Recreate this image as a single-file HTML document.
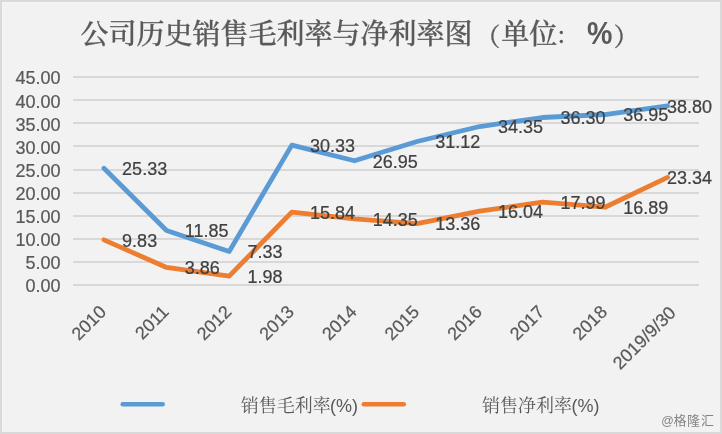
<!DOCTYPE html>
<html lang="zh-CN">
<head>
<meta charset="utf-8">
<title>公司历史销售毛利率与净利率图</title>
<style>
html,body{margin:0;padding:0;background:#d9d9d9;}
body{width:722px;height:434px;overflow:hidden;position:relative;}
svg{position:absolute;left:0;top:0;display:block;}
.num{font-family:"Liberation Sans","Noto Sans CJK SC",sans-serif;font-size:18px;}
.ax{fill:#595959;stroke:#595959;stroke-width:0.22px;}
.dl{fill:#404040;stroke:#404040;stroke-width:0.22px;}
.ttl{font-family:"Noto Serif CJK SC","Liberation Serif",serif;font-size:28px;fill:#595959;font-weight:500;stroke:#595959;stroke-width:0.3px;}
.lg{font-family:"Noto Serif CJK SC","Liberation Serif",serif;font-size:18px;fill:#595959;}
.wm{font-family:"Liberation Sans","Noto Sans CJK SC",sans-serif;font-size:13px;fill:#858585;}
</style>
</head>
<body>
<svg width="722" height="434" viewBox="0 0 722 434">
<rect x="0" y="0" width="722" height="434" fill="#d9d9d9"/>
<rect x="2" y="2" width="718.1" height="429.8" fill="#f5f5f5"/>
<rect x="3" y="3" width="716.6" height="428.4" fill="#f2f2f2"/>

<g fill="#d8d8d8">
<rect x="73.1" y="76" width="625.8" height="2"/>
<rect x="73.1" y="99" width="625.8" height="2"/>
<rect x="73.1" y="122" width="625.8" height="2"/>
<rect x="73.1" y="145" width="625.8" height="2"/>
<rect x="73.1" y="169" width="625.8" height="2"/>
<rect x="73.1" y="192" width="625.8" height="2"/>
<rect x="73.1" y="215" width="625.8" height="2"/>
<rect x="73.1" y="238" width="625.8" height="2"/>
<rect x="73.1" y="261" width="625.8" height="2"/>
<rect x="73.1" y="284" width="625.8" height="2"/>
</g>
<g class="num ax" text-anchor="end">
<text x="60.6" y="292.40">0.00</text>
<text x="60.6" y="269.29">5.00</text>
<text x="60.6" y="246.18">10.00</text>
<text x="60.6" y="223.07">15.00</text>
<text x="60.6" y="199.96">20.00</text>
<text x="60.6" y="176.85">25.00</text>
<text x="60.6" y="153.74">30.00</text>
<text x="60.6" y="130.63">35.00</text>
<text x="60.6" y="107.52">40.00</text>
<text x="60.6" y="84.41">45.00</text>
</g>
<polyline points="103.91,168.22 166.55,230.53 229.18,251.42 291.81,145.11 354.44,160.73 417.07,141.46 479.70,126.53 542.33,117.51 604.96,114.51 667.59,105.96" fill="none" stroke="#5b9bd5" stroke-width="4.8" stroke-linecap="round" stroke-linejoin="round"/>
<polyline points="103.91,239.86 166.55,267.46 229.18,276.15 291.81,212.08 354.44,218.97 417.07,223.55 479.70,211.16 542.33,202.15 604.96,207.23 667.59,177.42" fill="none" stroke="#ed7d31" stroke-width="4.8" stroke-linecap="round" stroke-linejoin="round"/>
<g class="num dl">
<text x="122.11" y="175.12">25.33</text>
<text x="184.75" y="237.43">11.85</text>
<text x="247.38" y="258.32">7.33</text>
<text x="310.00" y="152.01">30.33</text>
<text x="372.64" y="167.63">26.95</text>
<text x="435.27" y="148.36">31.12</text>
<text x="497.90" y="133.43">34.35</text>
<text x="560.53" y="124.41">36.30</text>
<text x="623.16" y="121.41">36.95</text>
<text x="666.90" y="112.86">38.80</text>
<text x="122.11" y="246.76">9.83</text>
<text x="184.75" y="274.36">3.86</text>
<text x="247.38" y="283.05">1.98</text>
<text x="310.00" y="218.98">15.84</text>
<text x="372.64" y="225.87">14.35</text>
<text x="435.27" y="230.45">13.36</text>
<text x="497.90" y="218.06">16.04</text>
<text x="560.53" y="209.05">17.99</text>
<text x="623.16" y="214.13">16.89</text>
<text x="666.90" y="184.32">23.34</text>
</g>
<g class="num ax" text-anchor="end">
<text transform="translate(107.21,313.00) rotate(-45)">2010</text>
<text transform="translate(169.85,313.00) rotate(-45)">2011</text>
<text transform="translate(232.48,313.00) rotate(-45)">2012</text>
<text transform="translate(295.11,313.00) rotate(-45)">2013</text>
<text transform="translate(357.74,313.00) rotate(-45)">2014</text>
<text transform="translate(420.37,313.00) rotate(-45)">2015</text>
<text transform="translate(483.00,313.00) rotate(-45)">2016</text>
<text transform="translate(545.62,313.00) rotate(-45)">2017</text>
<text transform="translate(608.25,313.00) rotate(-45)">2018</text>
<text transform="translate(676.88,313.80) rotate(-45)">2019/9/30</text>
</g>
<text class="ttl" x="80.5" y="43.9">公司历史销售毛利率与净利率图</text>
<text class="ttl" x="475.3" y="45.7" style="font-size:25px">（</text>
<text class="ttl" x="501.3" y="43.9">单位</text>
<text class="ttl" x="555.9" y="43.3" style="font-size:22px">：</text>
<text class="ttl" transform="translate(586.9,43.6) scale(1.02,1.12)" style="font-family:'Liberation Sans',sans-serif;font-weight:bold;stroke:none">%</text>
<text class="ttl" x="613.7" y="45.7" style="font-size:25px">）</text>
<line x1="122.7" y1="404.2" x2="162.7" y2="404.2" stroke="#5b9bd5" stroke-width="4.5" stroke-linecap="round"/>
<text class="lg" x="240.7" y="411.6">销售毛利率<tspan class="num" dx="-0.6" dy="0.2">(%)</tspan></text>
<line x1="363.8" y1="404.2" x2="403.8" y2="404.2" stroke="#ed7d31" stroke-width="4.5" stroke-linecap="round"/>
<text class="lg" x="482" y="411.6">销售净利率<tspan class="num" dx="-0.6" dy="0.2">(%)</tspan></text>
<text class="wm" y="425.2"><tspan x="661.3" style="font-size:12.4px">@</tspan><tspan x="673.6 686.9 700.9">格隆汇</tspan></text>
</svg>
</body>
</html>
